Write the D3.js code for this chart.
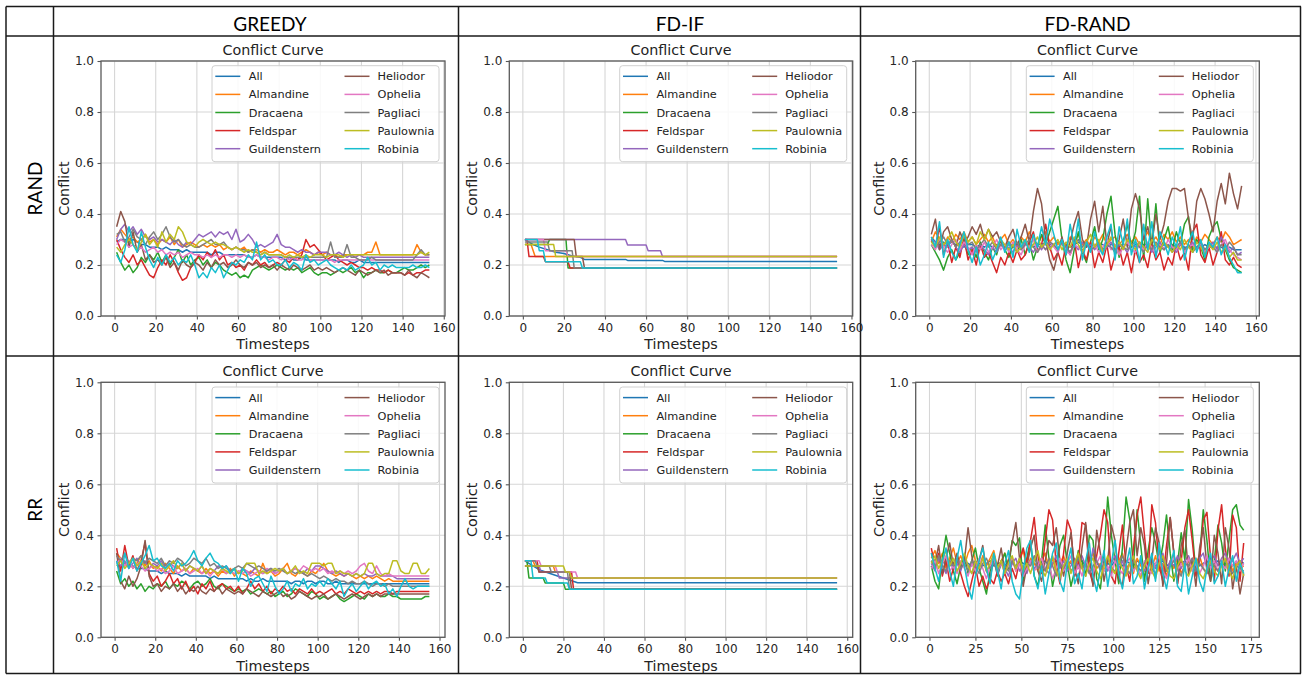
<!DOCTYPE html>
<html><head><meta charset="utf-8">
<script src="https://cdn.jsdelivr.net/npm/d3@7"></script>
<style>body{margin:0;background:#fff}svg{display:block}</style>
</head><body>
<svg id="c" width="1302" height="675"></svg>
<script>
// ---------- categories / labels ----------
const SERIES = ["All","Almandine","Dracaena","Feldspar","Guildenstern","Heliodor","Ophelia","Pagliaci","Paulownia","Robinia"];
const COLORS = ["#1f77b4","#ff7f0e","#2ca02c","#d62728","#9467bd","#8c564b","#e377c2","#7f7f7f","#bcbd22","#17becf"];
const COL_HEADERS = ["GREEDY","FD-IF","FD-RAND"];
const ROW_HEADERS = ["RAND","RR"];
const Y_TICKS = [0,0.2,0.4,0.6,0.8,1.0];
const X_TICKS_160 = [0,20,40,60,80,100,120,140,160];
const X_TICKS_175 = [0,25,50,75,100,125,150,175];

// ---------- GREEDY / RAND : conflict read every 2 timesteps from t=1 (series order = SERIES) ----------
const greedyRand = [
[.29,.30,.30,.29,.30,.29,.28,.28,.27,.27,.27,.26,.27,.26,.26,.26,.25,.26,.25,.25,.25,.25,.25,.24,.25,.25,.24,.24,.24,.24,.24,.24,.23,.23,.24,.23,.23,.23,.23,.23,.23,.22,.23,.22,.22,.23,.22,.22,.22,.22,.22,.22,.22,.22,.21,.22,.22,.21,.21,.22,.21,.21,.21,.21,.21,.21,.21,.21,.21,.21,.21,.21,.21,.21,.21,.21,.21],
[.31,.34,.32,.30,.31,.29,.30,.32,.29,.30,.28,.30,.29,.31,.28,.30,.27,.28,.29,.28,.27,.28,.27,.28,.27,.28,.26,.27,.26,.27,.26,.27,.25,.26,.26,.25,.26,.25,.25,.26,.25,.24,.25,.25,.24,.25,.26,.25,.24,.25,.24,.25,.24,.24,.23,.24,.24,.24,.24,.24,.24,.25,.25,.29,.24,.24,.24,.24,.24,.24,.24,.24,.24,.28,.25,.24,.24],
[.25,.21,.18,.20,.17,.19,.23,.21,.24,.22,.25,.21,.24,.20,.23,.26,.21,.24,.20,.22,.23,.20,.22,.19,.21,.20,.18,.17,.16,.17,.15,.16,.15,.18,.19,.20,.19,.18,.19,.20,.19,.18,.19,.18,.19,.17,.18,.19,.17,.16,.17,.17,.16,.17,.18,.17,.18,.19,.17,.18,.15,.17,.17,.18,.17,.17,.18,.17,.17,.18,.19,.18,.18,.19,.20,.19,.20],
[.30,.26,.23,.21,.24,.20,.22,.19,.16,.15,.19,.22,.20,.24,.21,.17,.14,.15,.19,.21,.24,.22,.25,.23,.26,.22,.24,.20,.21,.19,.20,.18,.21,.20,.22,.20,.21,.19,.20,.21,.20,.22,.21,.23,.22,.24,.30,.27,.28,.26,.24,.22,.23,.24,.22,.21,.20,.21,.20,.19,.19,.18,.19,.18,.18,.17,.18,.17,.17,.17,.16,.17,.16,.17,.17,.18,.18],
[.30,.34,.36,.33,.35,.32,.34,.31,.30,.31,.29,.30,.29,.28,.30,.28,.27,.29,.28,.30,.32,.31,.32,.33,.31,.33,.32,.33,.30,.34,.29,.30,.32,.30,.27,.28,.27,.28,.29,.32,.28,.27,.27,.26,.25,.26,.25,.25,.24,.25,.25,.25,.24,.24,.25,.24,.23,.24,.23,.24,.23,.23,.23,.23,.23,.23,.23,.23,.23,.23,.23,.23,.23,.23,.23,.23,.23],
[.35,.41,.37,.27,.33,.25,.28,.22,.24,.21,.22,.20,.23,.19,.21,.18,.22,.20,.19,.21,.20,.18,.21,.19,.22,.20,.21,.19,.20,.22,.20,.19,.21,.20,.21,.19,.20,.19,.20,.18,.20,.19,.18,.20,.19,.18,.19,.20,.18,.19,.18,.19,.18,.17,.18,.19,.18,.17,.16,.18,.17,.16,.17,.18,.17,.18,.16,.17,.17,.17,.16,.18,.16,.15,.17,.16,.15],
[.28,.30,.29,.27,.28,.26,.27,.25,.26,.27,.25,.26,.24,.25,.24,.25,.23,.24,.25,.24,.24,.23,.24,.23,.24,.23,.24,.24,.23,.24,.23,.24,.23,.23,.24,.23,.23,.22,.23,.23,.22,.23,.22,.23,.22,.22,.23,.22,.22,.22,.22,.22,.22,.21,.22,.22,.22,.22,.22,.22,.22,.22,.22,.22,.22,.22,.22,.22,.22,.22,.22,.22,.22,.22,.22,.22,.22],
[.32,.33,.29,.31,.34,.31,.30,.28,.31,.33,.30,.32,.35,.31,.29,.30,.28,.27,.28,.27,.27,.28,.29,.30,.28,.28,.29,.27,.26,.27,.26,.26,.25,.26,.25,.24,.25,.24,.24,.24,.24,.23,.23,.23,.23,.23,.23,.23,.23,.23,.23,.23,.29,.23,.23,.23,.28,.23,.23,.22,.22,.22,.23,.22,.22,.22,.22,.22,.22,.22,.22,.22,.22,.24,.26,.24,.24],
[.27,.25,.28,.30,.28,.26,.29,.32,.28,.30,.27,.33,.29,.32,.30,.35,.33,.29,.28,.27,.29,.30,.29,.28,.29,.28,.28,.27,.26,.27,.26,.25,.26,.25,.25,.24,.25,.24,.24,.24,.24,.23,.24,.23,.24,.23,.24,.23,.24,.24,.24,.23,.24,.24,.24,.23,.24,.24,.24,.24,.24,.24,.24,.24,.24,.24,.24,.24,.24,.24,.24,.24,.24,.24,.25,.24,.25],
[.24,.21,.26,.35,.28,.25,.33,.27,.22,.19,.23,.20,.24,.21,.23,.20,.22,.21,.24,.20,.15,.17,.15,.19,.17,.20,.15,.18,.21,.20,.22,.21,.24,.22,.29,.22,.24,.21,.22,.20,.20,.22,.19,.21,.20,.18,.24,.21,.22,.20,.21,.22,.20,.19,.18,.19,.18,.20,.18,.19,.20,.23,.20,.21,.18,.20,.19,.20,.19,.19,.19,.19,.20,.19,.19,.20,.19]
];

// ---------- FD-IF / RAND : [timestep, conflict] at each level change ----------
const fdIfRand = [
[[1,.30],[3,.29],[5,.28],[8,.27],[12,.26],[16,.25],[20,.245],[24,.235],[28,.23],[30,.222],[50,.222],[51,.218],[68,.218],[69,.214],[153,.214]],
[[1,.28],[4,.28],[6,.233],[153,.233]],
[[1,.28],[12,.28],[13,.30],[21,.30],[22,.188],[153,.188]],
[[1,.30],[2,.30],[3,.233],[10,.233],[11,.213],[22,.213],[23,.188],[153,.188]],
[[1,.30],[50,.30],[51,.278],[60,.278],[61,.256],[67,.256],[68,.233],[153,.233]],
[[1,.30],[25,.30],[26,.233],[29,.233],[30,.188],[153,.188]],
[[1,.30],[10,.30],[11,.256],[21,.256],[22,.233],[153,.233]],
[[1,.29],[12,.29],[13,.256],[24,.256],[25,.188],[153,.188]],
[[1,.28],[15,.28],[16,.233],[153,.233]],
[[1,.30],[7,.30],[8,.256],[10,.256],[11,.213],[28,.213],[29,.188],[153,.188]]
];

// ---------- FD-RAND / RAND : every 2 timesteps from t=1 ----------
const fdRandRand = [
[.31,.29,.28,.29,.28,.29,.28,.28,.27,.28,.28,.27,.28,.27,.28,.27,.28,.28,.27,.28,.27,.28,.27,.28,.28,.27,.28,.28,.29,.28,.28,.29,.28,.28,.27,.28,.29,.28,.28,.27,.28,.28,.28,.27,.28,.28,.27,.28,.28,.27,.28,.27,.28,.28,.27,.28,.27,.28,.27,.28,.27,.28,.27,.27,.28,.27,.27,.28,.27,.27,.27,.27,.26,.27,.26,.26,.26],
[.29,.33,.30,.27,.31,.29,.32,.30,.33,.29,.31,.28,.30,.32,.29,.31,.27,.30,.32,.28,.30,.27,.31,.29,.33,.30,.28,.31,.33,.29,.31,.28,.30,.27,.31,.29,.32,.28,.30,.27,.31,.29,.32,.28,.30,.31,.28,.30,.32,.29,.31,.28,.30,.33,.29,.31,.28,.32,.30,.33,.29,.31,.28,.30,.27,.31,.29,.32,.30,.28,.31,.29,.33,.31,.28,.29,.30],
[.28,.25,.22,.18,.23,.26,.22,.25,.29,.24,.27,.23,.29,.25,.22,.27,.24,.30,.26,.23,.28,.25,.30,.24,.29,.22,.27,.32,.28,.33,.38,.43,.30,.22,.17,.26,.33,.25,.21,.29,.35,.26,.30,.40,.47,.32,.23,.29,.36,.27,.33,.47,.22,.46,.27,.44,.25,.30,.35,.26,.33,.28,.36,.39,.25,.30,.27,.22,.31,.35,.37,.30,.26,.22,.19,.18,.17],
[.30,.27,.35,.24,.29,.21,.27,.23,.31,.22,.26,.20,.28,.23,.25,.21,.17,.23,.20,.25,.21,.26,.22,.24,.29,.33,.25,.28,.36,.27,.22,.25,.20,.28,.24,.30,.19,.26,.22,.29,.19,.25,.21,.28,.18,.24,.27,.20,.25,.17,.26,.21,.24,.19,.28,.22,.25,.18,.23,.20,.28,.22,.25,.18,.33,.36,.24,.21,.27,.20,.25,.33,.22,.20,.23,.20,.19],
[.30,.29,.26,.28,.27,.30,.27,.25,.28,.26,.27,.25,.28,.26,.24,.27,.25,.28,.26,.27,.25,.28,.26,.29,.27,.25,.28,.26,.29,.27,.28,.26,.29,.27,.25,.28,.26,.29,.27,.28,.26,.28,.25,.27,.29,.26,.28,.27,.25,.28,.27,.29,.26,.28,.25,.27,.29,.26,.28,.27,.25,.28,.26,.27,.29,.26,.28,.25,.27,.29,.26,.31,.28,.25,.27,.24,.25],
[.32,.38,.26,.33,.35,.30,.27,.33,.29,.31,.35,.32,.36,.30,.34,.31,.33,.29,.27,.31,.34,.28,.31,.36,.29,.41,.50,.44,.30,.22,.18,.25,.31,.24,.29,.36,.41,.30,.27,.38,.45,.33,.43,.28,.35,.24,.30,.38,.27,.42,.48,.42,.30,.35,.28,.40,.30,.36,.45,.50,.50,.49,.50,.38,.30,.45,.50,.46,.40,.33,.45,.52,.44,.56,.48,.42,.51],
[.28,.26,.30,.27,.25,.28,.30,.26,.29,.27,.24,.28,.26,.29,.25,.27,.30,.26,.28,.25,.29,.26,.24,.28,.27,.30,.25,.28,.26,.29,.27,.25,.29,.26,.24,.28,.27,.25,.29,.26,.28,.25,.27,.30,.26,.28,.24,.27,.29,.26,.25,.28,.26,.29,.27,.24,.28,.26,.30,.27,.26,.29,.25,.27,.28,.26,.29,.25,.27,.28,.25,.28,.30,.26,.24,.23,.22],
[.30,.27,.29,.31,.28,.30,.27,.29,.31,.28,.29,.26,.28,.30,.27,.29,.26,.28,.27,.29,.27,.29,.26,.28,.30,.27,.25,.28,.26,.29,.28,.26,.29,.27,.25,.28,.30,.27,.29,.26,.27,.29,.26,.28,.27,.25,.29,.27,.26,.28,.29,.27,.25,.28,.26,.29,.27,.26,.28,.25,.27,.29,.26,.28,.25,.27,.29,.26,.28,.27,.25,.28,.26,.29,.27,.24,.24],
[.29,.27,.31,.28,.30,.33,.29,.27,.32,.29,.31,.28,.33,.30,.34,.29,.27,.30,.28,.26,.28,.25,.27,.30,.26,.28,.31,.27,.29,.26,.28,.30,.26,.29,.27,.31,.28,.25,.29,.32,.27,.30,.25,.28,.31,.27,.29,.26,.30,.28,.26,.29,.27,.25,.30,.28,.26,.29,.27,.25,.28,.26,.30,.27,.25,.29,.27,.24,.28,.26,.29,.25,.27,.23,.25,.22,.22],
[.31,.27,.37,.23,.30,.25,.22,.28,.33,.26,.21,.27,.20,.24,.29,.22,.26,.31,.25,.29,.23,.34,.27,.30,.25,.32,.27,.35,.28,.38,.32,.26,.30,.24,.36,.27,.38,.22,.29,.25,.33,.27,.24,.31,.36,.22,.35,.28,.38,.24,.30,.21,.36,.26,.37,.23,.33,.29,.24,.31,.27,.35,.22,.29,.33,.25,.30,.23,.29,.27,.31,.24,.28,.23,.20,.17,.17]
];

// ---------- GREEDY / RR : every 2 timesteps from t=1 ----------
const greedyRR = [
[.29,.30,.29,.28,.28,.27,.27,.27,.26,.26,.26,.25,.26,.25,.25,.25,.24,.25,.24,.24,.24,.24,.24,.23,.24,.23,.23,.23,.23,.23,.23,.23,.22,.23,.22,.22,.23,.22,.22,.22,.22,.22,.22,.21,.22,.22,.21,.22,.22,.21,.22,.22,.21,.21,.22,.21,.21,.21,.21,.21,.21,.21,.21,.21,.21,.21,.21,.21,.21,.21,.21,.21,.21,.21,.21,.21,.21,.21],
[.33,.31,.28,.30,.27,.29,.32,.28,.30,.27,.28,.26,.29,.27,.25,.28,.26,.27,.25,.27,.26,.25,.27,.25,.26,.24,.26,.25,.27,.24,.26,.25,.24,.26,.25,.24,.29,.25,.26,.24,.25,.27,.29,.25,.24,.26,.25,.24,.26,.25,.27,.29,.26,.25,.24,.25,.24,.25,.24,.23,.24,.23,.24,.23,.24,.23,.22,.23,.22,.22,.22,.22,.22,.22,.22,.22,.22,.22],
[.26,.21,.23,.20,.22,.19,.21,.18,.20,.19,.21,.20,.22,.19,.21,.20,.22,.21,.19,.21,.22,.20,.21,.23,.20,.19,.21,.20,.19,.18,.19,.18,.19,.17,.18,.19,.18,.17,.18,.16,.17,.18,.16,.17,.19,.18,.17,.16,.18,.17,.15,.16,.15,.16,.17,.15,.14,.15,.16,.17,.16,.15,.17,.16,.17,.16,.16,.17,.16,.16,.15,.15,.15,.15,.15,.15,.16,.16],
[.35,.26,.36,.28,.32,.26,.30,.37,.25,.22,.24,.20,.22,.25,.21,.23,.19,.22,.18,.20,.17,.21,.19,.22,.18,.20,.21,.19,.20,.18,.20,.17,.19,.22,.19,.21,.18,.20,.17,.19,.18,.20,.18,.19,.17,.19,.18,.17,.19,.17,.18,.17,.18,.19,.17,.18,.17,.19,.18,.17,.18,.17,.18,.17,.18,.17,.18,.18,.17,.18,.18,.18,.18,.18,.18,.18,.18,.18],
[.30,.28,.30,.27,.29,.31,.28,.30,.27,.29,.28,.30,.27,.29,.28,.27,.29,.26,.28,.27,.26,.28,.25,.27,.26,.28,.27,.28,.26,.27,.25,.27,.26,.25,.27,.26,.25,.26,.27,.25,.26,.27,.25,.26,.27,.26,.25,.27,.26,.28,.28,.27,.26,.25,.26,.25,.24,.25,.24,.25,.24,.25,.24,.24,.25,.24,.24,.24,.24,.23,.23,.23,.23,.23,.23,.23,.23,.23],
[.33,.22,.19,.24,.20,.23,.28,.38,.24,.20,.21,.18,.20,.19,.21,.18,.20,.17,.19,.18,.20,.18,.17,.19,.18,.20,.17,.19,.18,.17,.18,.17,.19,.18,.17,.16,.18,.17,.16,.17,.18,.16,.17,.15,.16,.18,.17,.16,.15,.16,.16,.17,.15,.16,.17,.16,.15,.16,.17,.16,.15,.16,.17,.16,.17,.16,.17,.17,.17,.17,.17,.17,.17,.17,.17,.17,.17,.17],
[.29,.31,.28,.30,.27,.29,.28,.26,.27,.28,.26,.27,.25,.26,.28,.25,.26,.27,.25,.26,.27,.25,.26,.24,.26,.25,.27,.25,.26,.25,.26,.25,.26,.24,.25,.26,.25,.27,.26,.25,.26,.27,.25,.26,.27,.26,.28,.27,.26,.27,.26,.27,.25,.26,.25,.26,.25,.26,.25,.26,.28,.29,.26,.25,.28,.25,.24,.25,.24,.24,.24,.24,.24,.24,.24,.24,.24,.24],
[.32,.30,.33,.29,.31,.30,.32,.29,.31,.30,.29,.31,.28,.30,.29,.31,.30,.28,.29,.31,.30,.29,.31,.28,.29,.27,.28,.27,.26,.27,.28,.27,.29,.28,.27,.28,.27,.26,.27,.26,.27,.26,.25,.26,.25,.26,.25,.24,.25,.24,.23,.24,.23,.22,.23,.22,.22,.21,.22,.21,.21,.22,.21,.20,.21,.21,.20,.21,.20,.20,.20,.20,.20,.20,.20,.20,.20,.20],
[.28,.30,.27,.29,.31,.28,.30,.27,.29,.28,.27,.29,.26,.28,.30,.27,.29,.26,.28,.27,.26,.28,.25,.27,.26,.25,.27,.26,.25,.27,.25,.26,.29,.29,.29,.25,.26,.25,.26,.27,.26,.27,.25,.26,.28,.25,.26,.25,.29,.29,.29,.28,.29,.29,.25,.26,.25,.25,.24,.25,.24,.25,.29,.29,.25,.24,.25,.25,.30,.30,.26,.25,.25,.29,.29,.25,.25,.27],
[.30,.22,.33,.27,.31,.26,.29,.32,.36,.30,.31,.28,.27,.29,.26,.30,.28,.29,.31,.34,.30,.28,.31,.33,.30,.29,.27,.28,.25,.27,.22,.27,.25,.20,.23,.24,.21,.18,.24,.20,.17,.19,.22,.18,.21,.20,.23,.19,.21,.20,.22,.20,.23,.21,.19,.22,.16,.19,.21,.18,.20,.22,.19,.21,.22,.20,.21,.17,.19,.16,.20,.23,.20,.19,.20,.20,.20,.20]
];

// ---------- FD-IF / RR : [timestep, conflict] at each level change ----------
const fdIfRR = [
[[1,.30],[3,.29],[5,.28],[7,.27],[9,.262],[27,.214],[155,.214]],
[[1,.30],[5,.30],[6,.28],[15,.28],[16,.256],[23,.256],[24,.233],[155,.233]],
[[1,.30],[2,.30],[3,.233],[10,.233],[11,.213],[20,.213],[21,.188],[155,.188]],
[[1,.30],[7,.30],[8,.256],[24,.256],[25,.188],[155,.188]],
[[1,.28],[8,.28],[9,.256],[17,.256],[18,.233],[155,.233]],
[[1,.28],[7,.28],[8,.256],[23,.256],[24,.188],[155,.188]],
[[1,.30],[8,.30],[9,.28],[16,.28],[17,.256],[26,.256],[27,.233],[155,.233]],
[[1,.30],[6,.30],[7,.28],[13,.28],[14,.256],[22,.256],[23,.188],[155,.188]],
[[1,.28],[20,.28],[21,.256],[23,.256],[24,.233],[155,.233]],
[[1,.30],[4,.30],[5,.233],[11,.233],[12,.213],[22,.213],[23,.188],[155,.188]]
];

// ---------- FD-RAND / RR : every 2 timesteps from t=1 ----------
const fdRandRR = [
[.30,.28,.31,.29,.30,.28,.29,.30,.28,.29,.29,.28,.30,.29,.28,.29,.30,.28,.29,.29,.28,.30,.29,.28,.30,.29,.28,.30,.29,.28,.29,.30,.28,.29,.30,.29,.28,.30,.29,.28,.29,.30,.28,.29,.31,.29,.28,.30,.29,.28,.30,.29,.28,.30,.29,.28,.30,.29,.28,.29,.30,.28,.29,.30,.28,.29,.30,.28,.29,.30,.28,.29,.30,.28,.29,.30,.28,.29,.30,.28,.29,.30,.28,.29,.30,.29],
[.31,.34,.29,.33,.27,.31,.35,.29,.32,.28,.33,.36,.30,.27,.32,.28,.31,.34,.27,.30,.33,.28,.31,.26,.30,.34,.27,.31,.29,.26,.30,.33,.27,.31,.25,.29,.32,.27,.30,.26,.31,.28,.25,.30,.33,.27,.29,.26,.31,.28,.25,.30,.33,.27,.29,.25,.31,.28,.26,.30,.27,.32,.26,.29,.24,.30,.27,.31,.25,.28,.30,.26,.29,.32,.27,.25,.30,.28,.26,.29,.27,.31,.26,.29,.27,.28],
[.28,.22,.19,.31,.40,.33,.26,.21,.28,.32,.25,.30,.35,.27,.22,.17,.26,.31,.24,.29,.33,.27,.38,.36,.39,.22,.31,.38,.24,.20,.30,.44,.31,.20,.27,.36,.40,.29,.20,.26,.34,.30,.24,.40,.38,.23,.19,.32,.55,.40,.30,.21,.35,.55,.46,.27,.50,.36,.22,.34,.43,.37,.28,.36,.48,.33,.22,.29,.41,.30,.54,.42,.25,.31,.50,.38,.22,.30,.44,.37,.26,.38,.50,.52,.44,.42],
[.35,.28,.33,.24,.30,.22,.27,.31,.25,.20,.16,.22,.28,.20,.24,.19,.23,.21,.26,.22,.25,.21,.27,.23,.30,.35,.29,.38,.47,.32,.25,.38,.50,.46,.28,.21,.33,.46,.42,.24,.29,.45,.44,.26,.21,.32,.40,.50,.45,.24,.21,.33,.44,.28,.22,.35,.48,.55,.40,.25,.52,.45,.28,.22,.36,.47,.33,.21,.30,.43,.50,.38,.24,.30,.46,.49,.31,.22,.42,.52,.35,.24,.48,.43,.22,.37],
[.29,.26,.31,.28,.25,.30,.27,.29,.26,.31,.28,.25,.29,.27,.31,.26,.28,.30,.25,.29,.27,.24,.29,.31,.26,.28,.25,.30,.27,.29,.31,.27,.25,.29,.32,.27,.30,.26,.28,.31,.27,.32,.28,.25,.35,.30,.27,.31,.26,.29,.32,.27,.30,.25,.29,.32,.27,.30,.26,.28,.31,.27,.29,.33,.26,.30,.28,.32,.27,.30,.32,.28,.26,.31,.33,.27,.30,.32,.28,.31,.33,.28,.30,.33,.29,.31],
[.33,.29,.36,.25,.31,.37,.28,.33,.27,.30,.43,.32,.25,.30,.36,.26,.23,.31,.28,.35,.26,.30,.37,.45,.31,.20,.28,.35,.40,.26,.22,.30,.38,.36,.43,.30,.24,.33,.41,.27,.21,.35,.45,.31,.20,.42,.33,.22,.30,.44,.38,.23,.20,.34,.45,.50,.32,.43,.36,.21,.30,.43,.37,.20,.29,.47,.33,.21,.36,.42,.25,.31,.20,.35,.43,.28,.22,.40,.33,.21,.43,.35,.19,.28,.17,.25],
[.27,.30,.25,.29,.32,.26,.28,.25,.30,.27,.24,.29,.26,.31,.27,.23,.28,.31,.26,.29,.25,.28,.31,.26,.29,.24,.27,.30,.26,.28,.31,.26,.29,.23,.27,.31,.26,.29,.32,.25,.28,.24,.30,.27,.25,.29,.32,.26,.28,.24,.30,.27,.25,.29,.31,.26,.28,.24,.30,.27,.25,.29,.32,.26,.23,.28,.31,.26,.29,.27,.31,.26,.29,.25,.28,.32,.27,.30,.26,.29,.27,.31,.28,.30,.26,.29],
[.30,.27,.32,.28,.26,.30,.28,.31,.27,.29,.26,.30,.28,.25,.29,.31,.27,.29,.26,.30,.28,.26,.30,.27,.31,.25,.29,.28,.32,.27,.29,.26,.31,.28,.24,.29,.27,.30,.26,.28,.31,.27,.29,.25,.28,.30,.26,.29,.31,.27,.26,.29,.32,.27,.25,.30,.28,.26,.29,.31,.27,.25,.29,.31,.26,.28,.30,.27,.24,.29,.28,.31,.26,.29,.27,.25,.30,.28,.26,.29,.30,.27,.25,.28,.27,.26],
[.29,.32,.27,.30,.34,.28,.31,.26,.29,.33,.28,.25,.30,.27,.31,.26,.29,.33,.27,.30,.25,.29,.32,.27,.31,.26,.29,.25,.30,.34,.27,.24,.29,.32,.26,.23,.28,.31,.25,.29,.33,.27,.24,.29,.31,.26,.23,.28,.32,.27,.25,.30,.27,.24,.29,.32,.26,.23,.28,.31,.26,.23,.29,.32,.27,.24,.23,.28,.31,.26,.24,.28,.31,.25,.23,.27,.30,.26,.24,.28,.31,.26,.23,.28,.30,.24],
[.33,.27,.22,.30,.35,.26,.20,.31,.38,.28,.20,.15,.24,.30,.35,.27,.21,.33,.26,.19,.29,.34,.22,.17,.15,.26,.35,.38,.24,.19,.28,.17,.25,.33,.37,.22,.18,.29,.35,.21,.25,.19,.30,.37,.24,.18,.27,.34,.20,.29,.38,.25,.19,.28,.35,.21,.24,.32,.19,.27,.33,.22,.37,.25,.19,.28,.34,.20,.18,.29,.17,.24,.31,.22,.18,.27,.33,.21,.24,.30,.20,.27,.32,.22,.29,.25]
];

// ---------- panels ----------
const PANELS = [
  {row:0, col:0, kind:"sampled", data:greedyRand, tRange:[1,153], xTicks:X_TICKS_160},
  {row:0, col:1, kind:"levels",  data:fdIfRand,   tRange:[1,153], xTicks:X_TICKS_160},
  {row:0, col:2, kind:"sampled", data:fdRandRand, tRange:[1,154], xTicks:X_TICKS_160},
  {row:1, col:0, kind:"sampled", data:greedyRR,   tRange:[1,155], xTicks:X_TICKS_160},
  {row:1, col:1, kind:"levels",  data:fdIfRR,     tRange:[1,155], xTicks:X_TICKS_160},
  {row:1, col:2, kind:"sampled", data:fdRandRR,   tRange:[1,171], xTicks:X_TICKS_175}
];

// ---------- layout ----------
const COL_X = [[101,445],[509.3,852.7],[915.7,1259.3]];
const ROW_Y = [[61,316],[382.3,637.3]];
const MPL = "DejaVu Sans, Verdana, sans-serif";
const svg = d3.select("#c");

// table grid
const T = svg.append("g").attr("stroke","#1a1a1a").attr("stroke-width",1.5);
[[6,6.5,1301,6.5],[6,36,1301,36],[6,356,1301,356],[6,673.5,1301,673.5],
 [6,6.5,6,673.5],[53.5,6.5,53.5,673.5],[458.5,6.5,458.5,673.5],[860.5,6.5,860.5,673.5],[1300.5,6.5,1300.5,673.5]]
 .forEach(([x1,y1,x2,y2])=>T.append("line").attr("x1",x1).attr("y1",y1).attr("x2",x2).attr("y2",y2));

// header / row labels (Calibri-like font, sized from GREEDY's width)
const probe = svg.append("text").attr("font-family","Lato, Carlito, sans-serif").attr("font-size",20).text("GREEDY");
const hdrSize = 20*73.5/probe.node().getComputedTextLength();
probe.remove();
const HDR_X = [270,680,1087.5];
COL_HEADERS.forEach((h,i)=>svg.append("text").attr("x",HDR_X[i]).attr("y",31).attr("text-anchor","middle")
  .attr("font-family","Lato, Carlito, sans-serif").attr("font-size",hdrSize).attr("fill","#000").text(h));
ROW_HEADERS.forEach((h,i)=>{
  const cy=(ROW_Y[i][0]+ROW_Y[i][1])/2;
  svg.append("text").attr("transform",`translate(42,${cy}) rotate(-90)`).attr("text-anchor","middle")
   .attr("font-family","Lato, Carlito, sans-serif").attr("font-size",hdrSize).attr("fill","#000").text(h);
});

PANELS.forEach(p=>{
  const [l,r]=COL_X[p.col], [t,b]=ROW_Y[p.row];
  const span=p.tRange[1]-p.tRange[0];
  const x=d3.scaleLinear().domain([p.tRange[0]-0.05*span, p.tRange[1]+0.05*span]).range([l,r]);
  const y=d3.scaleLinear().domain([0,1]).range([b,t]);
  const g=svg.append("g");

  // grid
  g.append("g").selectAll("line").data(p.xTicks).join("line")
   .attr("x1",d=>x(d)).attr("x2",d=>x(d)).attr("y1",t).attr("y2",b).attr("stroke","#d6d6d6").attr("stroke-width",1.1);
  g.append("g").selectAll("line").data(Y_TICKS).join("line")
   .attr("y1",d=>y(d)).attr("y2",d=>y(d)).attr("x1",l).attr("x2",r).attr("stroke","#d6d6d6").attr("stroke-width",1.1);

  // series
  const line=d3.line().x(d=>x(d[0])).y(d=>y(d[1]));
  p.data.forEach((vals,k)=>{
    const pts = p.kind==="sampled" ? vals.map((v,i)=>[p.tRange[0]+2*i, v]) : vals;
    g.append("path").attr("d",line(pts)).attr("fill","none").attr("stroke",COLORS[k])
     .attr("stroke-width",1.5).attr("stroke-linejoin","round");
  });

  // axes
  const xa=g.append("g").attr("transform",`translate(0,${b})`)
    .call(d3.axisBottom(x).tickValues(p.xTicks).tickSize(3.5).tickPadding(3.5).tickFormat(d3.format("d")));
  const ya=g.append("g").attr("transform",`translate(${l},0)`)
    .call(d3.axisLeft(y).tickValues(Y_TICKS).tickSize(3.5).tickPadding(3.5).tickFormat(d3.format(".1f")));
  [xa,ya].forEach(a=>{
    a.select(".domain").remove();
    a.selectAll(".tick line").attr("stroke","#555").attr("stroke-width",1.1);
    a.selectAll(".tick text").attr("font-family",MPL).attr("font-size",12).attr("fill","#262626");
  });
  // spines
  g.append("rect").attr("x",l).attr("y",t).attr("width",r-l).attr("height",b-t)
   .attr("fill","none").attr("stroke","#5a5a5a").attr("stroke-width",1.3);

  // titles / labels
  g.append("text").attr("x",(l+r)/2).attr("y",t-6.3).attr("text-anchor","middle")
   .attr("font-family",MPL).attr("font-size",14.3).attr("fill","#222").text("Conflict Curve");
  g.append("text").attr("x",(l+r)/2).attr("y",b+33.3).attr("text-anchor","middle")
   .attr("font-family",MPL).attr("font-size",14.3).attr("fill","#222").text("Timesteps");
  g.append("text").attr("transform",`translate(${l-32},${(t+b)/2}) rotate(-90)`).attr("text-anchor","middle")
   .attr("font-family",MPL).attr("font-size",14.3).attr("fill","#222").text("Conflict");

  // legend
  const LW=227, LH=96;
  const lg=g.append("g").attr("transform",`translate(${r-6-LW},${t+4.7})`);
  lg.append("rect").attr("width",LW).attr("height",LH).attr("rx",3)
    .attr("fill","#fff").attr("fill-opacity",0.85).attr("stroke","#d0d0d0").attr("stroke-width",1);
  SERIES.forEach((s,k)=>{
    const c=Math.floor(k/5), rI=k%5;
    const hx = c===0?3.3:132.5, tx = c===0?36.7:165.5;
    const cy = 10.6 + rI*18.1;
    lg.append("line").attr("x1",hx).attr("x2",hx+25).attr("y1",cy).attr("y2",cy)
      .attr("stroke",COLORS[k]).attr("stroke-width",1.5);
    lg.append("text").attr("x",tx).attr("y",cy+4.1).attr("font-family",MPL).attr("font-size",11.3)
      .attr("fill","#222").text(s);
  });
});
</script>
</body></html>
